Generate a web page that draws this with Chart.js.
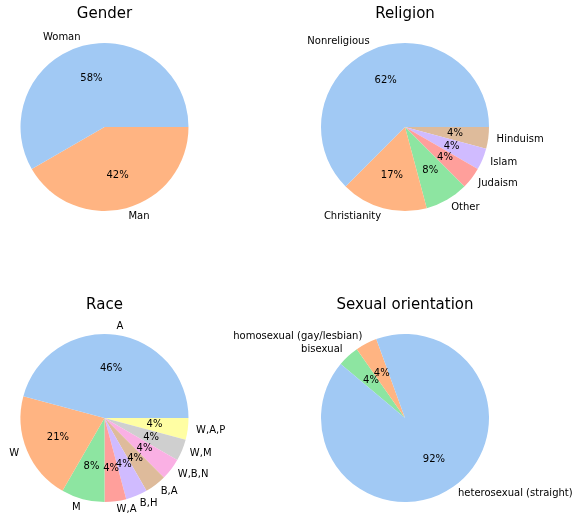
<!DOCTYPE html>
<html>
<head>
<meta charset="utf-8">
<script src="https://cdn.jsdelivr.net/npm/chart.js@4/dist/chart.umd.min.js"></script>
<style>
  body { margin: 0; background: #fff; }
  #wrap { position: relative; width: 581px; height: 520px; }
  canvas { position: absolute; left: 0; top: 0; }
</style>
</head>
<body>
<div id="wrap">
  <canvas id="genderChart" width="581" height="520"></canvas>
  <canvas id="religionChart" width="581" height="520"></canvas>
  <canvas id="raceChart" width="581" height="520"></canvas>
  <canvas id="orientationChart" width="581" height="520"></canvas>
</div>
<script>
const genderLabels = ['Woman', 'Man'];
const genderCounts = [14, 10];

const religionLabels = ['Nonreligious', 'Christianity', 'Other', 'Judaism', 'Islam', 'Hinduism'];
const religionCounts = [15, 4, 2, 1, 1, 1];

const raceLabels = ['A', 'W', 'M', 'W,A', 'B,H', 'B,A', 'W,B,N', 'W,M', 'W,A,P'];
const raceCounts = [11, 5, 2, 1, 1, 1, 1, 1, 1];

const orientationLabels = ['heterosexual (straight)', 'homosexual (gay/lesbian)', 'bisexual'];
const orientationCounts = [22, 1, 1];

// seaborn "pastel"
const pastel = ['#a1c9f4', '#ffb482', '#8de5a1', '#ff9f9b', '#d0bbff',
  '#debb9b', '#fab0e4', '#cfcfcf', '#fffea3', '#b9f2f0'];

const FONT = '"DejaVu Sans", sans-serif';
const R = 84;

// python style round (half to even) so 62.5 -> 62
function roundHalfEven(v) {
  const f = Math.floor(v);
  const d = v - f;
  if (Math.abs(d - 0.5) < 1e-9) return f % 2 === 0 ? f : f + 1;
  return Math.round(v);
}

const pieText = {
  id: 'pieText',
  afterDraw(chart, args, opts) {
    const ctx = chart.ctx;
    const meta = chart.getDatasetMeta(0);
    const values = chart.data.datasets[0].data;
    const labels = chart.data.labels;
    const total = values.reduce((a, b) => a + b, 0);
    const area = chart.chartArea;
    const cx = (area.left + area.right) / 2;
    const cy = (area.top + area.bottom) / 2;

    ctx.save();
    ctx.fillStyle = '#000';
    ctx.font = '15px ' + FONT;
    ctx.textAlign = 'center';
    ctx.textBaseline = 'alphabetic';
    ctx.fillText(opts.title, cx, cy - 108.7);

    ctx.font = '10px ' + FONT;
    ctx.textBaseline = 'middle';
    meta.data.forEach((arc, i) => {
      const mid = (arc.startAngle + arc.endAngle) / 2;
      const r = arc.outerRadius;
      const lx = arc.x + 1.1 * r * Math.cos(mid);
      const ly = arc.y + 1.1 * r * Math.sin(mid);
      ctx.textAlign = Math.cos(mid) > 0 ? 'left' : 'right';
      ctx.fillText(labels[i], lx, ly);

      const px = arc.x + 0.6 * r * Math.cos(mid);
      const py = arc.y + 0.6 * r * Math.sin(mid);
      ctx.textAlign = 'center';
      ctx.fillText(roundHalfEven(values[i] / total * 100) + '%', px, py);
    });
    ctx.restore();
  }
};

// matplotlib draws counter-clockwise from startAngle, chart.js clockwise,
// so the slices go in reversed
function makePie(id, title, labels, counts, cx, cy, startAngle) {
  const W = 581, H = 520;
  new Chart(document.getElementById(id), {
    type: 'pie',
    data: {
      labels: labels.slice().reverse(),
      datasets: [{
        data: counts.slice().reverse(),
        backgroundColor: pastel.slice(0, counts.length).reverse(),
        borderWidth: 0,
      }],
    },
    options: {
      responsive: false,
      animation: false,
      rotation: 90 - startAngle,
      layout: {
        padding: { left: cx - R, top: cy - R, right: W - cx - R, bottom: H - cy - R },
      },
      plugins: {
        legend: { display: false },
        tooltip: { enabled: false },
        pieText: { title: title },
      },
    },
    plugins: [pieText],
  });
}

makePie('genderChart', 'Gender', genderLabels, genderCounts, 104.5, 127, 0);
makePie('religionChart', 'Religion', religionLabels, religionCounts, 405, 127, 0);
makePie('raceChart', 'Race', raceLabels, raceCounts, 104.5, 418, 0);
makePie('orientationChart', 'Sexual orientation', orientationLabels, orientationCounts, 405, 418, 140);
</script>
</body>
</html>
